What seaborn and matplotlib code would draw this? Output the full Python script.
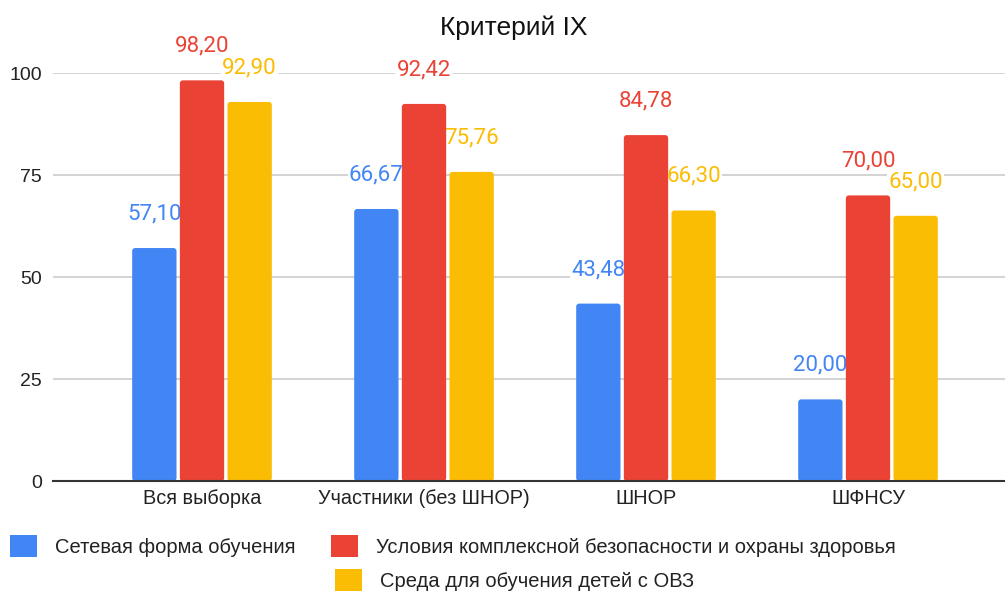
import matplotlib
matplotlib.use("Agg")
import matplotlib.pyplot as plt
import seaborn as sns
import pandas as pd
from matplotlib.patches import Patch, FancyBboxPatch

categories = ["Вся выборка", "Участники (без ШНОР)", "ШНОР", "ШФНСУ"]
series_names = [
    "Сетевая форма обучения",
    "Условия комплексной безопасности и охраны здоровья",
    "Среда для обучения детей с ОВЗ",
]
network_form = [57.10, 66.67, 43.48, 20.00]
safety_health = [98.20, 92.42, 84.78, 70.00]
ovz_env = [92.90, 75.76, 66.30, 65.00]
colors = ["#4285F4", "#EA4335", "#FBBC04"]
title = "Критерий IX"
yticks = [0, 25, 50, 75, 100]

rows = []
for name, vals in zip(series_names, [network_form, safety_health, ovz_env]):
    for c, v in zip(categories, vals):
        rows.append({"cat": c, "series": name, "value": v})
df = pd.DataFrame(rows)

sns.set_theme(style="white")
plt.rcParams["font.family"] = ["Liberation Sans", "DejaVu Sans"]

fig = plt.figure(figsize=(10.05, 5.91), dpi=100)
W, H = 1005, 591
ax = fig.add_axes([53 / W, (H - 481) / H, 1 - 53 / W, (481 - 73) / H])

sns.barplot(data=df, x="cat", y="value", hue="series", order=categories,
            hue_order=series_names, palette=colors, width=0.644, gap=0.07,
            saturation=1, ax=ax, legend=False)

ax.set_ylim(0, 100)
ax.set_xlim((55 - 204) / 222, (1007 - 204) / 222)
ax.set_yticks(yticks)
ax.set_yticklabels([str(t) for t in yticks])
ax.grid(axis="y", color="#CCCCCC", linewidth=1.2)
ax.set_axisbelow(True)
for s in ["top", "right", "left"]:
    ax.spines[s].set_visible(False)
ax.spines["bottom"].set_color("#333333")
ax.spines["bottom"].set_linewidth(1.5)
ax.spines["bottom"].set_zorder(5)
ax.set_xlabel("")
ax.set_ylabel("")
ax.tick_params(axis="y", length=0, pad=8, labelsize=14, labelcolor="#222222")
ax.tick_params(axis="x", length=0, pad=6, labelsize=14.3, labelcolor="#222222")

# rounded top corners (~3 px radius) on the seaborn bars
px_x = ax.get_position().width * W / (ax.get_xlim()[1] - ax.get_xlim()[0])
px_y = ax.get_position().height * H / (ax.get_ylim()[1] - ax.get_ylim()[0])
r = 3.0 / px_x
aspect = px_x / px_y

for cont, col in zip(ax.containers, colors):
    for b in cont:
        b.set_visible(False)
        fb = FancyBboxPatch((b.get_x(), b.get_y()), b.get_width(), b.get_height(),
                            boxstyle=f"round,pad=0,rounding_size={r}",
                            mutation_aspect=aspect, facecolor=b.get_facecolor(),
                            edgecolor="none", zorder=2)
        ax.add_patch(fb)
    labels = [f"{b.get_height():.2f}".replace(".", ",") for b in cont]
    txts = ax.bar_label(cont, labels=labels, padding=17, color=col, fontsize=16,
                        family=["Roboto", "DejaVu Sans"])
    for t in txts:
        t.set_bbox(dict(facecolor="white", edgecolor="none", pad=1))
        t.set_clip_on(False)
        t.set_zorder(1.5)
        t.set_visible(True)

fig.text(514 / W, 1 - 28 / H, title, ha="center", va="center", fontsize=19,
         color="#111111")

h = [Patch(facecolor=c, edgecolor="none") for c in colors]
leg1 = fig.legend(h[:2], series_names[:2], loc="center left",
                  bbox_to_anchor=(10 / W, 1 - 546 / H), ncol=2, frameon=False,
                  fontsize=14.5, handlelength=1.35, handleheight=1.3,
                  handletextpad=0.9, columnspacing=1.75, borderpad=0,
                  borderaxespad=0)
for t in leg1.get_texts():
    t.set_color("#222222")
leg2 = fig.legend(h[2:], series_names[2:], loc="center left",
                  bbox_to_anchor=(335 / W, 1 - 580 / H), frameon=False,
                  fontsize=14.5, handlelength=1.35, handleheight=1.3,
                  handletextpad=0.9, borderpad=0, borderaxespad=0)
for t in leg2.get_texts():
    t.set_color("#222222")

fig.savefig("out.png", dpi=100)
